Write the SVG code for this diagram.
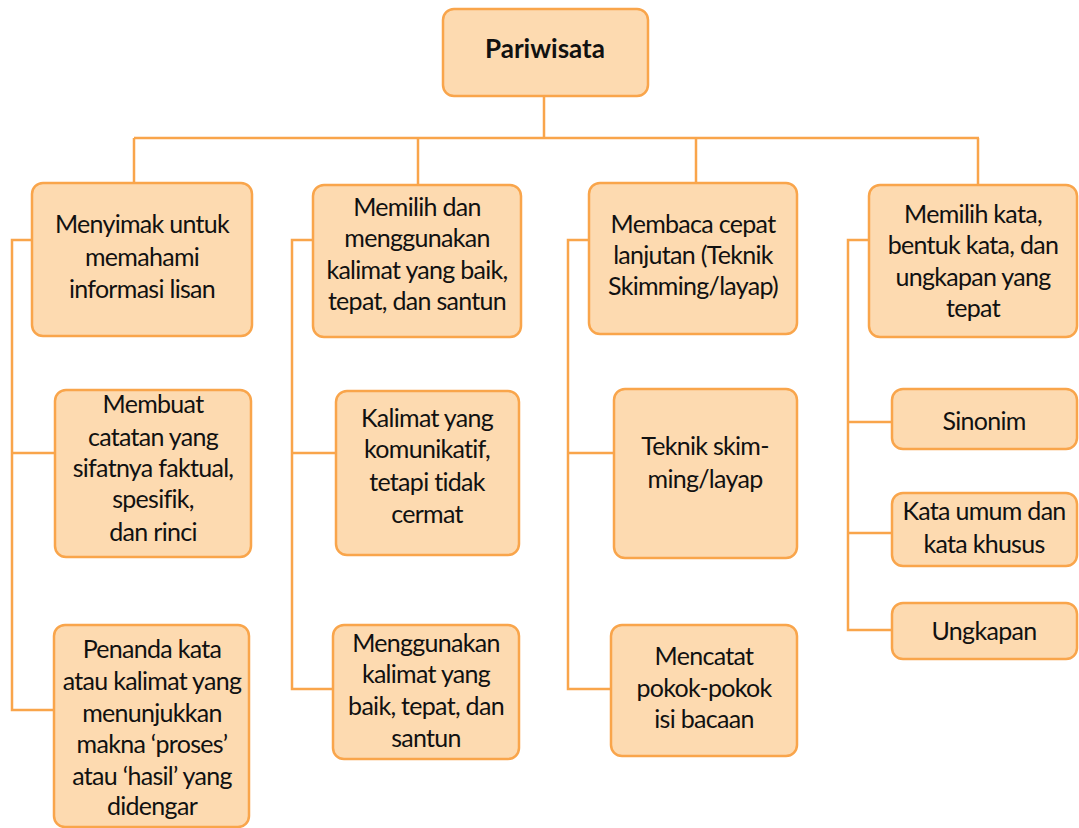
<svg xmlns="http://www.w3.org/2000/svg" width="1079" height="828" viewBox="0 0 1079 828">
<style>
.box{fill:#FDDAB0;stroke:#F9A54B;stroke-width:2.5}
.ln{stroke:#F9A54B;stroke-width:2.5;fill:none}
text{font-family:Lato,"Liberation Sans",sans-serif;font-size:25px;fill:#111;text-anchor:middle;letter-spacing:-0.7px}
.b{font-weight:bold;font-size:26px;letter-spacing:0}
</style>
<rect width="1079" height="828" fill="#fff"/>
<g id="connectors">
<path class="ln" d="M544 96V138M134 138H979M134 138V183M418 138V185M696 138V183M978 138V185"/>
<path class="ln" d="M32 240H12V710H54M12 453H55"/>
<path class="ln" d="M313 240H292V689H333M292 453H336"/>
<path class="ln" d="M589 240H568V689H611M568 453H614"/>
<path class="ln" d="M869 240H848V630H892M848 422H892M848 533H892"/>
</g>
<g id="root"><rect class="box" x="443" y="9" width="205" height="87" rx="11"/><text class="b" x="545" y="58">Pariwisata</text></g>
<g id="n1"><rect class="box" x="32" y="183" width="220" height="153" rx="11"/><text x="142" y="233">Menyimak untuk</text><text x="142" y="266">memahami</text><text x="142" y="298">informasi lisan</text></g>
<g id="n2"><rect class="box" x="313" y="185" width="208" height="152" rx="11"/><text x="417" y="216">Memilih dan</text><text x="417" y="247">menggunakan</text><text x="417" y="279">kalimat yang baik,</text><text x="417" y="310">tepat, dan santun</text></g>
<g id="n3"><rect class="box" x="589" y="183" width="208" height="151" rx="11"/><text x="693" y="233">Membaca cepat</text><text x="693" y="264">lanjutan (Teknik</text><text x="693" y="295">Skimming/layap)</text></g>
<g id="n4"><rect class="box" x="869" y="185" width="208" height="152" rx="11"/><text x="973" y="223">Memilih kata,</text><text x="973" y="254">bentuk kata, dan</text><text x="973" y="286">ungkapan yang</text><text x="973" y="317">tepat</text></g>
<g id="n1a"><rect class="box" x="55" y="390" width="196" height="167" rx="11"/><text x="153" y="413">Membuat</text><text x="153" y="446">catatan yang</text><text x="153" y="477">sifatnya faktual,</text><text x="153" y="508">spesifik,</text><text x="153" y="541">dan rinci</text></g>
<g id="n1b"><rect class="box" x="54" y="625" width="195" height="202" rx="11"/><text x="152" y="658">Penanda kata</text><text x="152" y="690">atau kalimat yang</text><text x="152" y="722">menunjukkan</text><text x="152" y="753">makna ‘proses’</text><text x="152" y="785">atau ‘hasil’ yang</text><text x="152" y="815">didengar</text></g>
<g id="n2a"><rect class="box" x="336" y="391" width="183" height="164" rx="11"/><text x="427" y="427">Kalimat yang</text><text x="427" y="458">komunikatif,</text><text x="427" y="491">tetapi tidak</text><text x="427" y="523">cermat</text></g>
<g id="n2b"><rect class="box" x="333" y="625" width="186" height="134" rx="11"/><text x="426" y="652">Menggunakan</text><text x="426" y="683">kalimat yang</text><text x="426" y="715">baik, tepat, dan</text><text x="426" y="747">santun</text></g>
<g id="n3a"><rect class="box" x="614" y="389" width="183" height="169" rx="11"/><text x="705" y="455">Teknik skim-</text><text x="705" y="488">ming/layap</text></g>
<g id="n3b"><rect class="box" x="611" y="625" width="186" height="131" rx="11"/><text x="704" y="665">Mencatat</text><text x="704" y="697">pokok-pokok</text><text x="704" y="728">isi bacaan</text></g>
<g id="n4a"><rect class="box" x="892" y="389" width="185" height="60" rx="11"/><text x="984" y="430">Sinonim</text></g>
<g id="n4b"><rect class="box" x="892" y="493" width="185" height="73" rx="11"/><text x="984" y="520">Kata umum dan</text><text x="984" y="553">kata khusus</text></g>
<g id="n4c"><rect class="box" x="892" y="603" width="185" height="56" rx="11"/><text x="984" y="640">Ungkapan</text></g>
</svg>
